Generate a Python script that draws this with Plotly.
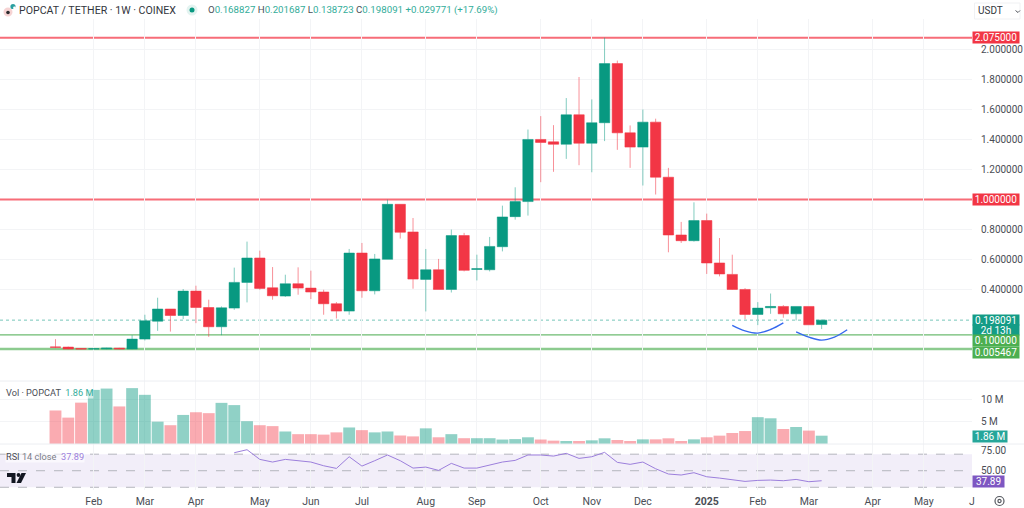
#!/usr/bin/env python3
"""Weekly POPCAT / USDT candles with volume and RSI panels."""

# Import libraries
import pandas as pd
from plotly import graph_objects as go
from plotly.subplots import make_subplots

# Chart data
FIRST_WEEK = "2024-01-15"
opens = [0.020, 0.019, 0.010, 0.006, 0.006, 0.012, 0.006, 0.072, 0.191, 0.272, 0.229, 0.391, 0.282, 0.154, 0.278,
         0.449, 0.611, 0.413, 0.358, 0.440, 0.411, 0.385, 0.307, 0.258, 0.644, 0.393, 0.602, 0.968, 0.784, 0.469,
         0.533, 0.402, 0.760, 0.535, 0.533, 0.686, 0.886, 0.986, 1.399, 1.383, 1.367, 1.563, 1.374, 1.510, 1.903,
         1.443, 1.348, 1.514, 1.148, 0.764, 0.726, 0.860, 0.578, 0.502, 0.402, 0.236, 0.280, 0.289, 0.240, 0.289,
         0.168827]
highs = [0.072, 0.022, 0.012, 0.009, 0.014, 0.014, 0.098, 0.234, 0.347, 0.272, 0.405, 0.427, 0.334, 0.289, 0.547,
         0.720, 0.660, 0.551, 0.500, 0.549, 0.527, 0.400, 0.318, 0.671, 0.711, 0.638, 0.999, 0.968, 0.877, 0.671,
         0.605, 0.800, 0.778, 0.633, 0.751, 0.959, 1.081, 1.465, 1.554, 1.494, 1.674, 1.814, 1.665, 2.075, 1.923,
         1.492, 1.598, 1.537, 1.210, 0.851, 0.981, 0.906, 0.744, 0.633, 0.411, 0.318, 0.375, 0.298, 0.289, 0.289,
         0.201687]
lows = [0.012, 0.005, 0.005, 0.005, 0.005, 0.005, 0.005, 0.063, 0.127, 0.122, 0.205, 0.178, 0.087, 0.098, 0.267,
        0.316, 0.400, 0.334, 0.352, 0.367, 0.338, 0.234, 0.209, 0.234, 0.347, 0.369, 0.602, 0.740, 0.407, 0.256,
        0.402, 0.382, 0.522, 0.462, 0.522, 0.655, 0.866, 0.893, 1.115, 1.184, 1.270, 1.228, 1.181, 1.388, 1.330,
        1.210, 1.093, 1.033, 0.649, 0.711, 0.720, 0.505, 0.489, 0.400, 0.205, 0.165, 0.240, 0.214, 0.196, 0.167,
        0.138723]
closes = [0.018, 0.006, 0.006, 0.008, 0.012, 0.007, 0.072, 0.194, 0.272, 0.229, 0.391, 0.282, 0.154, 0.280, 0.449,
          0.611, 0.409, 0.360, 0.440, 0.411, 0.385, 0.307, 0.258, 0.644, 0.393, 0.605, 0.968, 0.782, 0.471, 0.533,
          0.402, 0.760, 0.529, 0.540, 0.688, 0.884, 0.986, 1.399, 1.379, 1.367, 1.563, 1.374, 1.510, 1.903, 1.443,
          1.348, 1.514, 1.148, 0.764, 0.726, 0.860, 0.578, 0.505, 0.402, 0.236, 0.278, 0.289, 0.240, 0.289, 0.167,
          0.198091]
volumes = [7.5, 5.9, 9.25, 12.1, 12.4, 8.4, 12.5, 11.0, 5.0, 4.2, 6.5, 7.1, 6.9, 9.2, 8.7, 5.1, 4.2, 4.0, 2.8,
           2.2, 2.2, 2.1, 2.6, 3.7, 3.1, 2.6, 2.8, 1.9, 1.7, 3.5, 1.5, 2.2, 1.3, 1.3, 1.3, 1.0, 1.1, 1.5, 1.0,
           0.75, 0.67, 0.67, 0.82, 1.27, 0.9, 0.67, 1.04, 1.04, 1.27, 0.67, 1.04, 1.5, 1.87, 2.46, 2.9, 6.0, 5.75,
           3.36, 3.8, 3.0, 1.86]
RSI_OFFSET = 14
rsi = [71.8, 75.4, 63.7, 60.5, 63.7, 62.1, 60.5, 56.0, 52.8, 66.9, 55.6, 62.1, 69.0, 62.1, 53.2, 54.4, 50.4,
       58.9, 53.2, 53.2, 56.5, 60.5, 62.5, 69.0, 69.0, 67.7, 71.0, 64.9, 66.9, 72.2, 60.1, 57.7, 60.5, 52.4,
       46.0, 44.8, 47.6, 42.7, 41.1, 39.5, 37.1, 38.3, 38.7, 37.9, 39.5, 36.7, 37.89]

# Month ticks
tick_dates = ["2024-02-05", "2024-03-04", "2024-04-01", "2024-05-06", "2024-06-03", "2024-07-01", "2024-08-05",
              "2024-09-02", "2024-10-07", "2024-11-04", "2024-12-02", "2025-01-06", "2025-02-03", "2025-03-03",
              "2025-04-07", "2025-05-05"]
tick_labels = ["Feb", "Mar", "Apr", "May", "Jun", "Jul", "Aug", "Sep", "Oct", "Nov", "Dec", "<b>2025</b>", "Feb",
               "Mar", "Apr", "May"]
price_ticks = [2.2, 2.0, 1.8, 1.6, 1.4, 1.2, 0.8, 0.6, 0.4]
price_tick_labels = ["", "2.000000", "1.800000", "1.600000", "1.400000", "1.200000", "0.800000", "0.600000",
                     "0.400000"]
volume_ticks = [5, 10]
volume_tick_labels = ["5 M", "10 M"]
rsi_ticks = [50, 75]
rsi_tick_labels = ["50.00", "75.00"]
rsi_bands = [70, 50, 30]

# Drawn levels and arcs
red_levels = [2.075, 1.0]
green_levels = [0.1, 0.005467]
last_price = 0.198091
arc1_dates = ["2025-01-20", "2025-01-27", "2025-02-03", "2025-02-10", "2025-02-17"]
arc1_prices = [0.164, 0.127, 0.112, 0.136, 0.180]
arc2_dates = ["2025-02-24", "2025-03-03", "2025-03-10", "2025-03-17", "2025-03-24"]
arc2_prices = [0.120, 0.085, 0.065, 0.085, 0.134]

# Style constants
WIDTH = 1024
HEIGHT = 508
PLOT_WIDTH = 972
FONT = "Roboto"
TEXT = "#4a4d55"
GRID = "#f3f4f6"
GREEN = "#089981"
RED = "#f23645"
LEVEL_GREEN = "#4caf50"


def px_x(px):
    """Horizontal pixel to paper fraction"""
    return px / PLOT_WIDTH


def px_y(py):
    """Vertical pixel to paper fraction"""
    return 1 - py / HEIGHT


def pixel_path(points):
    """Closed SVG path in paper coordinates from pixel points"""
    parts = [f"{px_x(x):.5f},{px_y(y):.5f}" for x, y in points]
    return "M" + " L".join(parts) + " Z"


def add_axis_label(fig, text, yref, value, color, width, height=10.5, yshift=0):
    """Coloured price tag just right of the plot"""
    fig.add_annotation(
        text=text, xref="paper", x=1, xanchor="left", yref=yref, y=value, yshift=yshift,
        showarrow=False, width=width, height=height, bgcolor=color, borderpad=0, align="center",
        font=dict(family=FONT, size=10, color="#ffffff"),
    )


def add_text(fig, text, px, py, size=11, color=TEXT, anchor="left", bgcolor=None):
    """Plain text at pixel position"""
    fig.add_annotation(
        text=text, xref="paper", yref="paper", x=px_x(px), y=px_y(py), xanchor=anchor, yanchor="middle",
        showarrow=False, font=dict(family=FONT, size=size, color=color), bgcolor=bgcolor, borderpad=0,
    )


def add_circle(fig, cx, cy, r, fill, line=None, line_width=0):
    """Circle at pixel position"""
    fig.add_shape(
        type="circle", xref="paper", yref="paper", x0=px_x(cx - r), x1=px_x(cx + r), y0=px_y(cy + r),
        y1=px_y(cy - r), fillcolor=fill, line=dict(color=line or fill, width=line_width),
    )


# Build the figure
dates = pd.date_range(FIRST_WEEK, periods=len(closes), freq="7D")
fig = make_subplots(rows=3, cols=1, shared_xaxes=True, vertical_spacing=0)

fig.add_trace(
    go.Candlestick(
        x=dates, open=opens, high=highs, low=lows, close=closes, whiskerwidth=0,
        increasing=dict(line=dict(color="rgba(8,153,129,0.5)", width=1), fillcolor=GREEN),
        decreasing=dict(line=dict(color="rgba(242,54,69,0.55)", width=1), fillcolor=RED),
    ),
    row=1, col=1,
)
for dates_arc, prices_arc in [(arc1_dates, arc1_prices), (arc2_dates, arc2_prices)]:
    fig.add_trace(
        go.Scatter(x=dates_arc, y=prices_arc, mode="lines", line=dict(color="#3568ee", width=1.4, shape="spline")),
        row=1, col=1,
    )

bar_colors = ["rgba(8,153,129,0.45)" if c >= o else "rgba(242,54,69,0.42)" for o, c in zip(opens, closes)]
fig.add_trace(go.Bar(x=dates, y=volumes, marker=dict(color=bar_colors, line=dict(width=0))), row=2, col=1)
fig.add_trace(
    go.Scatter(x=dates[RSI_OFFSET:], y=rsi, mode="lines", line=dict(color="#9c7fdc", width=1)),
    row=3, col=1,
)

# Levels
for level in red_levels:
    fig.add_hline(y=level, line=dict(color="#f76d78", width=2), layer="below", row=1, col=1)
for level, line_color, line_width in zip(green_levels, ["#6dbb70", "#8ccb8f"], [1.4, 2.5]):
    fig.add_hline(y=level, line=dict(color=line_color, width=line_width), layer="below", row=1, col=1)
fig.add_hline(y=last_price, line=dict(color="rgba(8,153,129,0.55)", width=1, dash="dot"), layer="below", row=1, col=1)

# RSI band
fig.add_hrect(y0=rsi_bands[-1], y1=rsi_bands[0], fillcolor="rgba(126,87,194,0.10)", line_width=0, layer="below",
              row=3, col=1)
for band in rsi_bands:
    fig.add_hline(y=band, line=dict(color="#b4b6bd", width=1, dash="dash"), layer="below", row=3, col=1)

# Panel separators
for py in [381, 444]:
    fig.add_shape(type="line", xref="paper", yref="paper", x0=0, x1=px_x(WIDTH), y0=px_y(py), y1=px_y(py),
                  line=dict(color="#eceef2", width=1))

# Axes
x_range = ["2023-12-15 14:00", "2025-05-31 10:00"]
axis_x = dict(
    range=x_range, type="date", showgrid=True, gridcolor=GRID, gridwidth=1, zeroline=False, automargin=False,
    tickvals=tick_dates, ticktext=tick_labels, ticks="outside", ticklen=1, tickcolor="rgba(0,0,0,0)",
    rangeslider=dict(visible=False), tickfont=dict(family=FONT, size=10.5, color=TEXT),
)
fig.update_layout(
    xaxis=dict(axis_x, showticklabels=False),
    xaxis2=dict(axis_x, showticklabels=False),
    xaxis3=dict(axis_x, showticklabels=True),
)
axis_y = dict(
    side="right", showgrid=True, gridcolor=GRID, gridwidth=1, zeroline=False, ticks="outside", ticklen=6,
    tickcolor="rgba(0,0,0,0)", tickfont=dict(family=FONT, size=10, color=TEXT), showline=False, automargin=False,
)
fig.update_layout(
    yaxis=dict(axis_y, domain=[px_y(381), px_y(19)], range=[-0.2064, 2.1995], tickvals=price_ticks,
               ticktext=price_tick_labels),
    yaxis2=dict(axis_y, domain=[px_y(444), px_y(381)], range=[0, 14.09], tickvals=volume_ticks,
                ticktext=volume_tick_labels),
    yaxis3=dict(axis_y, domain=[px_y(490), px_y(444)], range=[26.7, 82.3], tickvals=rsi_ticks,
                ticktext=rsi_tick_labels, showgrid=False),
)

# Price tags
for level, text in zip(red_levels, ["2.075000", "1.000000"]):
    add_axis_label(fig, text, "y", level, RED, 46)
add_axis_label(fig, "0.198091", "y", last_price, "#149c86", 46, height=10)
add_axis_label(fig, "2d 13h", "y", last_price, "#149c86", 46, height=10, yshift=-10)
add_axis_label(fig, "0.100000", "y", green_levels[0], LEVEL_GREEN, 46, yshift=-6)
add_axis_label(fig, "0.005467", "y", green_levels[1], LEVEL_GREEN, 46, yshift=-3.5)
add_axis_label(fig, "1.86 M", "y2", volumes[-1], "#26a69a", 34, yshift=-0.5)
add_axis_label(fig, "37.89", "y3", rsi[-1], "#7e57c2", 31, yshift=-0.5)

# Header and legends
VALUE = "color:#33ad9a"
LEGEND_BG = "rgba(255,255,255,0.6)"
header_values = (
    f"O<span style='{VALUE}'>0.168827</span> H<span style='{VALUE}'>0.201687</span> "
    f"L<span style='{VALUE}'>0.138723</span> C<span style='{VALUE}'>0.198091</span> "
    f"<span style='{VALUE}'>+0.029771 (+17.69%)</span>"
)
add_text(fig, "POPCAT / TETHER · 1W · COINEX", 18, 10.5, size=10.6, color="#33363d")
add_text(fig, header_values, 207, 10.5, size=9.7)
add_text(fig, f"Vol · POPCAT  <span style='{VALUE}'>1.86 M</span>", 4.5, 392, size=9.2, bgcolor=LEGEND_BG)
add_text(fig, "RSI <span style='color:#7b7e87'>14 close</span>  <span style='color:#9c7fdc'>37.89</span>",
         4.5, 456, size=9.2, bgcolor=LEGEND_BG)
add_text(fig, "USDT", 977, 11, size=10, color="#33363d")
add_text(fig, "J", 968, 501, size=10.5)

# Symbol logo
add_circle(fig, 8, 12, 4.5, "#f6d3d3")
add_circle(fig, 8, 12.5, 1.8, "#2a2a2e")
add_circle(fig, 13, 6.5, 2.6, "#2b9fa0")
add_circle(fig, 14.5, 8, 1.4, "#ffffff")

# Live dot
add_circle(fig, 192, 10, 5.5, "#e3f3f0")
add_circle(fig, 192, 10, 2.5, GREEN)

# Currency selector
fig.add_shape(type="rect", xref="paper", yref="paper", x0=px_x(974.5), x1=px_x(1020), y0=px_y(19), y1=px_y(3),
              fillcolor="#ffffff", line=dict(color="#f0f1f3", width=1), layer="below")
fig.add_shape(type="path", xref="paper", yref="paper", path="M%.5f,%.5f L%.5f,%.5f L%.5f,%.5f" % (
    px_x(1015.5), px_y(10.5), px_x(1018), px_y(12.5), px_x(1020), px_y(10.5)), line=dict(color="#55585f", width=1))

# Watermark logo
for points in [
    [(7, 473), (15.5, 473), (15.5, 483), (11.5, 483), (11.5, 477), (7, 477)],
    [(21.5, 473), (26, 473), (21, 483), (16.5, 483)],
]:
    fig.add_shape(type="path", xref="paper", yref="paper", path=pixel_path(points), fillcolor="#131722",
                  line=dict(width=0))
add_circle(fig, 18.5, 475, 1.9, "#131722")

# Settings gear
add_circle(fig, 999.5, 501, 4.5, "rgba(0,0,0,0)", line="#55585f", line_width=1.2)
add_circle(fig, 999.5, 501, 1.6, "rgba(0,0,0,0)", line="#55585f", line_width=1.2)

fig.update_layout(
    width=WIDTH, height=HEIGHT, margin=dict(l=0, r=WIDTH - PLOT_WIDTH, t=0, b=0),
    paper_bgcolor="#ffffff", plot_bgcolor="#ffffff", showlegend=False, bargap=0.07, boxgap=0.1, boxgroupgap=0.1,
    font=dict(family=FONT, color=TEXT),
)

fig.write_html(
    "out.html",
    config={"displayModeBar": False},
    post_script=(
        "for (const el of [document.documentElement, document.body]) {"
        "el.style.margin='0';el.style.height='508px';el.style.overflow='hidden';}"
    ),
)
